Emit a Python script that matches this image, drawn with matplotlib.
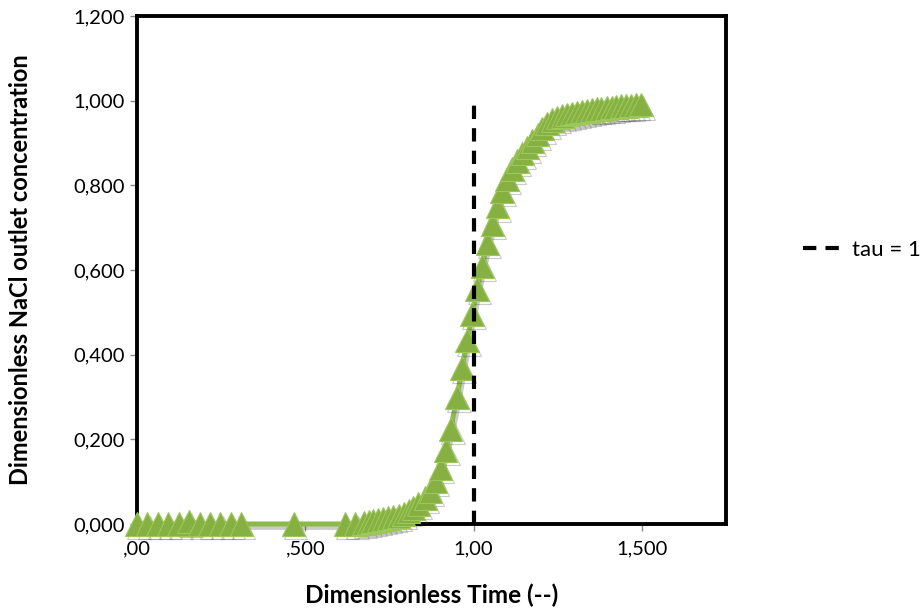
import numpy as np
import matplotlib.pyplot as plt
from matplotlib import patheffects as pe

plt.rcParams['font.family'] = ['Lato', 'DejaVu Sans']

# measured outlet concentration (dimensionless) vs dimensionless time
t = [0.000, 0.031, 0.062, 0.093, 0.124, 0.155, 0.186, 0.217, 0.248, 0.279, 0.310,
     0.465,
     0.619, 0.649, 0.673, 0.688, 0.702, 0.717, 0.732, 0.747, 0.762, 0.777, 0.792,
     0.807, 0.821, 0.836, 0.857, 0.872, 0.887, 0.902, 0.917, 0.932,
     0.951, 0.966, 0.981, 0.996, 1.011, 1.026, 1.041, 1.056, 1.071,
     1.085, 1.100, 1.115, 1.130, 1.145, 1.160, 1.175, 1.190, 1.204, 1.219,
     1.234, 1.249, 1.264, 1.278, 1.293, 1.307, 1.322, 1.336, 1.351, 1.366,
     1.380, 1.395, 1.410, 1.424, 1.439, 1.453, 1.468, 1.483, 1.497]
c = [0.000, 0.000, 0.000, 0.000, 0.000, 0.006, 0.000, 0.000, 0.000, 0.000, 0.000,
     0.000,
     0.000, 0.000, 0.002, 0.005, 0.007, 0.009, 0.012, 0.014, 0.017, 0.019, 0.024,
     0.031, 0.038, 0.047, 0.061, 0.078, 0.102, 0.132, 0.175, 0.225,
     0.300, 0.369, 0.433, 0.496, 0.555, 0.610, 0.664, 0.709, 0.750,
     0.787, 0.815, 0.839, 0.858, 0.875, 0.889, 0.905, 0.920, 0.934, 0.946,
     0.955, 0.960, 0.964, 0.967, 0.970, 0.972, 0.974, 0.976, 0.978, 0.980,
     0.981, 0.983, 0.984, 0.985, 0.987, 0.988, 0.989, 0.990, 0.991]

tau_x = [1.0, 1.0]
tau_y = [0.0, 1.0]

xticks = [0.0, 0.5, 1.0, 1.5]
xtick_labels = [",00", ",500", "1,00", "1,500"]
yticks = [0.0, 0.2, 0.4, 0.6, 0.8, 1.0, 1.2]
ytick_labels = ["0,000", "0,200", "0,400", "0,600", "0,800", "1,000", "1,200"]

fig = plt.figure(figsize=(9.22, 6.15), dpi=100)
ax = fig.add_axes([0.1486, 0.148, 0.6388, 0.826])

green = ax.plot(t, c, color='#8db84a', lw=3.6, marker='^', ms=17,
                markerfacecolor='#86b042', markeredgecolor='#9cc75a',
                markeredgewidth=0.8, zorder=3, clip_on=False)[0]
green.set_path_effects([pe.SimpleLineShadow(offset=(1.5, -2.5), shadow_color='#333333', alpha=0.25),
                        pe.Normal()])

ax.plot(tau_x, tau_y, color='black', lw=3.0, ls=(0, (3.2, 2.2)), label='tau = 1', zorder=4)

ax.set_xlim(0, 1.75)
ax.set_ylim(0, 1.2)
ax.set_xticks(xticks)
ax.set_xticklabels(xtick_labels)
ax.set_yticks(yticks)
ax.set_yticklabels(ytick_labels)
ax.tick_params(axis='both', labelsize=14.5, color='#888888', length=5, width=1, direction='out')
ax.tick_params(axis='x', pad=7)
ax.tick_params(axis='y', pad=4)

for s in ax.spines.values():
    s.set_linewidth(2.8)
    s.set_color('black')

ax.set_xlabel('Dimensionless Time (--)', fontsize=17.5, fontweight='bold')
ax.set_ylabel('Dimensionless NaCl outlet concentration', fontsize=17, fontweight='bold')
ax.xaxis.set_label_coords(0.5, -0.118)
ax.yaxis.set_label_coords(-0.178, 0.5)

fig.legend(handles=ax.get_lines()[1:], loc='center left', bbox_to_anchor=(803 / 922, 1 - 250 / 615),
           frameon=False, fontsize=16, borderpad=0, borderaxespad=0,
           handlelength=2.0, handletextpad=0.2)

fig.savefig('out.png', dpi=100)
